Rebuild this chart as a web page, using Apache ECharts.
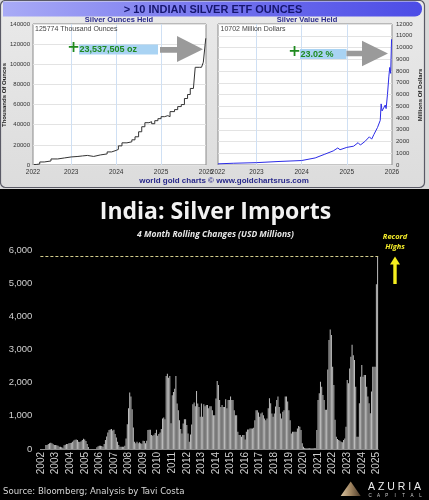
<!DOCTYPE html>
<html><head><meta charset="utf-8">
<script src="https://cdn.jsdelivr.net/npm/echarts@6/dist/echarts.min.js"></script>
<style>html,body{margin:0;padding:0;background:#000}#c{width:429px;height:500px}</style>
</head><body><div id="c"></div>
<script>
// ---------- Top-left: Silver Ounces Held (thousand oz) ----------
const ounceYears = [2022.17, 2022.22, 2022.3, 2022.4, 2022.55, 2022.7, 2022.85, 2023.0, 2023.15, 2023.25, 2023.36, 2023.5, 2023.65, 2023.8, 2023.9, 2024.0, 2024.05, 2024.13, 2024.24, 2024.35, 2024.42, 2024.5, 2024.57, 2024.64, 2024.73, 2024.79, 2024.86, 2024.93, 2025.0, 2025.08, 2025.15, 2025.2, 2025.3, 2025.37, 2025.45, 2025.52, 2025.59, 2025.65, 2025.72, 2025.76, 2025.85, 2025.9, 2025.94, 2025.98, 2025.995];
const ounceValues = [500, 1000, 3000, 4000, 6000, 7000, 8000, 8500, 9000, 9500, 8500, 10000, 11000, 13000, 14500, 15500, 19000, 22000, 23000, 25000, 28000, 33000, 38000, 42000, 43000, 41000, 44000, 46000, 48000, 49000, 48000, 53000, 55000, 58000, 60000, 66000, 70000, 76000, 77000, 97000, 97000, 98000, 102000, 103000, 125774];

// ---------- Top-right: Silver Value Held (million USD) ----------
const valueYears = [2022.15, 2022.5, 2023.0, 2023.5, 2024.0, 2024.3, 2024.5, 2024.7, 2024.8, 2024.85, 2025.0, 2025.15, 2025.25, 2025.3, 2025.4, 2025.5, 2025.55, 2025.6, 2025.68, 2025.74, 2025.76, 2025.78, 2025.82, 2025.85, 2025.87, 2025.9, 2025.93, 2025.95, 2025.97, 2025.99];
const valueMillions = [100, 150, 200, 300, 380, 600, 900, 1200, 1450, 1300, 1500, 1600, 1900, 1700, 2000, 2400, 2200, 2600, 3200, 3800, 5200, 4600, 4700, 5100, 4800, 6000, 7500, 8300, 7800, 10702];

const etfAxisStart = 2022.15;
const etfTickYears = [2022, 2023, 2024, 2025, 2026];
const etfGridYears = [2023, 2024, 2025];

// ---------- Bottom: India silver imports, 4-month rolling (USD mn), monthly ----------
const importYearLabels = ['2002','2003','2004','2005','2006','2007','2008','2009','2010','2011','2012','2013','2014','2015','2016','2017','2018','2019','2020','2021','2022','2023','2024','2025'];
const imp2002 = [0,0,0,0,120,120,150,170,190,170,140,120];
const imp2003 = [120,110,100,70,70,50,40,110,130,150,150,170];
const imp2004 = [180,190,220,260,280,290,270,220,210,230,270,310];
const imp2005 = [290,240,150,60,0,0,0,0,0,0,50,80];
const imp2006 = [100,100,90,70,150,270,380,500,570,590,600,560];
const imp2007 = [580,450,350,220,120,70,70,70,70,100,320,750];
const imp2008 = [1230,1700,1580,1200,650,220,170,220,170,200,170,160];
const imp2009 = [250,240,170,250,570,580,580,420,400,430,480,580];
const imp2010 = [400,450,500,600,920,950,900,2200,2270,2150,2200,780];
const imp2011 = [1620,1720,1820,2200,1370,1170,870,600,470,770,900,900];
const imp2012 = [720,470,220,440,740,1350,1400,1290,1750,1370,1270,970];
const imp2013 = [1370,970,1350,1290,1330,1330,1230,1290,1290,1170,1020,1020];
const imp2014 = [1520,2050,1930,1480,1270,1330,1270,1270,1500,1230,1480,1480];
const imp2015 = [1580,1480,1480,1170,1020,1020,520,420,420,370,420,420];
const imp2016 = [290,520,590,590,620,620,620,640,870,1170,1170,1100];
const imp2017 = [970,1070,1100,1020,920,870,920,1230,1530,1380,1070,970];
const imp2018 = [1070,1280,1480,1580,1270,1070,920,1120,1170,1580,1580,1430];
const imp2019 = [1170,870,470,520,520,520,520,620,690,670,570,170];
const imp2020 = [70,30,20,20,20,20,20,20,20,20,20,570];
const imp2021 = [1480,1680,2030,1880,1630,1480,1180,1180,2400,3290,3600,3440];
const imp2022 = [2480,1930,880,370,300,270,250,220,200,270,320,670];
const imp2023 = [2080,1980,2430,2780,3140,2830,2680,1880,370,370,1380,2180];
const imp2024 = [2530,2180,2230,2230,1880,1580,1380,1080,1730,2480,2480,2480];
const imp2025 = [4970,5800];
const importYearValues = [imp2002,imp2003,imp2004,imp2005,imp2006,imp2007,imp2008,imp2009,imp2010,imp2011,imp2012,imp2013,imp2014,imp2015,imp2016,imp2017,imp2018,imp2019,imp2020,imp2021,imp2022,imp2023,imp2024,imp2025];
const importYTicks = [0,1000,2000,3000,4000,5000,6000];

// build tables
const importCats = [], importVals = [];
importYearLabels.forEach((y, i) => importYearValues[i].forEach((v, m) => {
  importCats.push(y + '-' + String(m + 1).padStart(2, '0'));
  importVals.push(v);
}));
const ounceData = ounceYears.map((y, i) => [y, ounceValues[i]]);
const valueData = valueYears.map((y, i) => [y, valueMillions[i]]);

const sans = 'Liberation Sans';

const chart = echarts.init(document.getElementById('c'), null, {renderer: 'canvas'});

const capLetters = 'CAPITAL'.split('');

const option = {
  backgroundColor: '#000',
  animation: false,
  textStyle: {fontFamily: sans},
  grid: [
    {left: 33, top: 24, width: 173, height: 141, show: true, backgroundColor: '#fff', borderColor: '#8a8a8a', borderWidth: 1, containLabel: false},
    {left: 218, top: 24, width: 174, height: 141, show: true, backgroundColor: '#fff', borderColor: '#8a8a8a', borderWidth: 1, containLabel: false},
    {left: 40.4, top: 250, width: 337.8, height: 199, show: false, containLabel: false}
  ],
  xAxis: [
    {type: 'value', gridIndex: 0, min: etfAxisStart, max: 2026,
      axisLine: {show: false}, axisTick: {show: false}, splitLine: {show: false},
      axisLabel: {customValues: etfTickYears.map(y => Math.max(y, etfAxisStart)), formatter: v => String(Math.floor(v + 1e-6)), fontSize: 6.5, color: '#333', margin: 4}},
    {type: 'value', gridIndex: 1, min: etfAxisStart, max: 2026,
      axisLine: {show: false}, axisTick: {show: false}, splitLine: {show: false},
      axisLabel: {customValues: etfTickYears.map(y => Math.max(y, etfAxisStart)), formatter: v => String(Math.floor(v + 1e-6)), fontSize: 6.5, color: '#333', margin: 4}},
    {type: 'category', gridIndex: 2, data: importCats, boundaryGap: true,
      axisLine: {show: true, lineStyle: {color: '#8a8a8a', width: 1}}, axisTick: {show: false},
      axisLabel: {interval: (idx) => idx % 12 === 0, formatter: v => v.slice(0, 4), rotate: 90, fontSize: 10, color: '#cfcfcf', margin: 3}}
  ],
  yAxis: [
    {type: 'value', gridIndex: 0, min: 0, max: 140000, interval: 20000,
      axisLine: {show: false}, axisTick: {show: false},
      splitLine: {show: true, lineStyle: {color: '#e3e3e3', width: 1}},
      axisLabel: {formatter: v => String(v), fontSize: 6, color: '#333', margin: 3}},
    {type: 'value', gridIndex: 1, position: 'right', min: 0, max: 12000, interval: 1000,
      axisLine: {show: false}, axisTick: {show: false},
      splitLine: {show: true, lineStyle: {color: '#e3e3e3', width: 1}},
      axisLabel: {formatter: v => String(v), fontSize: 6, color: '#333', margin: 4}},
    {type: 'value', gridIndex: 2, min: 0, max: 6000, interval: 1000,
      axisLine: {show: false}, axisTick: {show: false}, splitLine: {show: false},
      axisLabel: {customValues: importYTicks, formatter: v => v.toLocaleString('en-US'), fontSize: 9.5, color: '#cfcfcf', margin: 8}}
  ],
  series: [
    {type: 'line', xAxisIndex: 0, yAxisIndex: 0, data: ounceData, step: 'end', showSymbol: false,
      lineStyle: {color: '#333', width: 1}, z: 3,
      markLine: {silent: true, symbol: ['none', 'none'], label: {show: false}, lineStyle: {color: '#cfe0f4', type: 'solid', width: 1}, z: 1,
        data: etfGridYears.map(y => ({xAxis: y}))}},
    {type: 'line', xAxisIndex: 1, yAxisIndex: 1, data: valueData, showSymbol: false,
      lineStyle: {color: '#2b2be6', width: 1}, z: 3,
      markLine: {silent: true, symbol: ['none', 'none'], label: {show: false}, lineStyle: {color: '#cfe0f4', type: 'solid', width: 1}, z: 1,
        data: etfGridYears.map(y => ({xAxis: y}))}},
    {type: 'bar', xAxisIndex: 2, yAxisIndex: 2, data: importVals, barCategoryGap: '20%',
      itemStyle: {color: '#bdbdbd'},
      markLine: {silent: true, symbol: ['none', 'none'], label: {show: false},
        lineStyle: {color: '#d2cc8c', type: [3, 2], width: 1}, data: [{type: 'max'}]}}
  ],
  graphic: [
    // top panel background
    {type: 'rect', z: -20, shape: {x: 0, y: 0, width: 429, height: 189}, style: {fill: '#d9d9d9'}},
    {type: 'rect', z: -19, shape: {x: 0.5, y: 0.5, width: 424, height: 187, r: 5},
      style: {fill: new echarts.graphic.LinearGradient(0, 0, 0, 1, [{offset: 0, color: '#eaeaea'}, {offset: 1, color: '#dcdcdc'}]), stroke: '#5a5a66', lineWidth: 1.2}},
    {type: 'rect', z: -18, shape: {x: 3, y: 1.5, width: 419, height: 15, r: [0, 7, 7, 0]},
      style: {fill: new echarts.graphic.LinearGradient(0, 0, 1, 0, [{offset: 0, color: '#a9abf6'}, {offset: 0.5, color: '#7474ee'}, {offset: 1, color: '#4c4ce6'}])}},
    {type: 'text', z: 10, style: {text: '> 10 INDIAN SILVER ETF OUNCES', x: 213, y: 9.5, align: 'center', verticalAlign: 'middle', font: 'bold 11px "Liberation Sans"', fill: '#15156e'}},
    {type: 'text', z: 10, style: {text: 'Silver Ounces Held', x: 119, y: 20, align: 'center', verticalAlign: 'middle', font: 'bold 7.5px "Liberation Sans"', fill: '#2a2a8c'}},
    {type: 'text', z: 10, style: {text: 'Silver Value Held', x: 307, y: 20, align: 'center', verticalAlign: 'middle', font: 'bold 7.5px "Liberation Sans"', fill: '#2a2a8c'}},
    {type: 'text', z: 10, style: {text: '125774 Thousand Ounces', x: 35, y: 29, align: 'left', verticalAlign: 'middle', font: '7px "Liberation Sans"', fill: '#444'}},
    {type: 'text', z: 10, style: {text: '10702 Million Dollars', x: 220.5, y: 29, align: 'left', verticalAlign: 'middle', font: '7px "Liberation Sans"', fill: '#444'}},
    {type: 'text', z: 10, rotation: Math.PI / 2, x: 4.5, y: 95, style: {text: 'Thousands Of Ounces', x: 0, y: 0, align: 'center', verticalAlign: 'middle', font: 'bold 6px "Liberation Sans"', fill: '#222'}},
    {type: 'text', z: 10, rotation: Math.PI / 2, x: 420, y: 95, style: {text: 'Millions Of Dollars', x: 0, y: 0, align: 'center', verticalAlign: 'middle', font: 'bold 6px "Liberation Sans"', fill: '#222'}},
    {type: 'text', z: 10, style: {text: 'world gold charts \u00a9 www.goldchartsrus.com', x: 224, y: 181, align: 'center', verticalAlign: 'middle', font: 'bold 8px "Liberation Sans"', fill: '#2a2a8c'}},
    // left annotation
    {type: 'rect', z: 10, shape: {x: 79, y: 44.5, width: 79, height: 10}, style: {fill: '#a9d3f3'}},
    {type: 'text', z: 11, style: {text: '+', x: 73.5, y: 48.5, align: 'center', verticalAlign: 'middle', font: 'bold 15px "DejaVu Sans"', fill: '#1f8a1f'}},
    {type: 'text', z: 11, style: {text: '23,537,505 oz', x: 79.5, y: 49.8, align: 'left', verticalAlign: 'middle', font: 'bold 9px "Liberation Sans"', fill: '#1f8a1f'}},
    {type: 'polygon', z: 10, shape: {points: [[160, 47], [177, 47], [177, 36], [203, 49.3], [177, 62], [177, 52.7], [160, 52.7]]}, style: {fill: '#9a9a9a'}},
    // right annotation
    {type: 'rect', z: 10, shape: {x: 300, y: 49, width: 46.5, height: 10}, style: {fill: '#a9d3f3'}},
    {type: 'text', z: 11, style: {text: '+', x: 294.5, y: 52.5, align: 'center', verticalAlign: 'middle', font: 'bold 15px "DejaVu Sans"', fill: '#1f8a1f'}},
    {type: 'text', z: 11, style: {text: '23.02 %', x: 300.5, y: 54.2, align: 'left', verticalAlign: 'middle', font: 'bold 9px "Liberation Sans"', fill: '#1f8a1f'}},
    {type: 'polygon', z: 10, shape: {points: [[346.5, 50.8], [362, 50.8], [362, 40.7], [388, 53.5], [362, 66.3], [362, 56.2], [346.5, 56.2]]}, style: {fill: '#9a9a9a'}},
    // bottom titles
    {type: 'text', z: 10, style: {text: 'India: Silver Imports', x: 215.5, y: 212, align: 'center', verticalAlign: 'middle', font: 'bold 23px "Open Sans"', fill: '#f2f2f2'}},
    {type: 'text', z: 10, style: {text: '4 Month Rolling Changes (USD Millions)', x: 215.5, y: 235, align: 'center', verticalAlign: 'middle', font: 'italic bold 8.5px "Open Sans"', fill: '#e6e6e6'}},
    {type: 'text', z: 10, style: {text: 'Record', x: 395, y: 236.5, align: 'center', verticalAlign: 'middle', font: 'italic bold 7.5px "Open Sans"', fill: '#f2ea2a'}},
    {type: 'text', z: 10, style: {text: 'Highs', x: 395, y: 246.5, align: 'center', verticalAlign: 'middle', font: 'italic bold 7.5px "Open Sans"', fill: '#f2ea2a'}},
    {type: 'polygon', z: 10, shape: {points: [[395, 256.5], [400, 264.5], [396.7, 264.5], [396.7, 284], [393.3, 284], [393.3, 264.5], [390, 264.5]]}, style: {fill: '#f5ee1e'}},
    {type: 'text', z: 10, style: {text: 'Source: Bloomberg; Analysis by Tavi Costa', x: 3, y: 492, align: 'left', verticalAlign: 'middle', font: '9.5px "Liberation Sans Narrow", "DejaVu Sans Condensed", "Liberation Sans"', fill: '#d6d6d6'}},
    // logo
    {type: 'polygon', z: 10, shape: {points: [[350.7, 481.5], [360.7, 496], [340.7, 496]]},
      style: {fill: new echarts.graphic.LinearGradient(0, 0, 1, 0, [{offset: 0, color: '#d9c4a0'}, {offset: 0.5, color: '#a08460'}, {offset: 1, color: '#4e3c2a'}])}},
    {type: 'text', z: 10, style: {text: 'A Z U R I A', x: 394.5, y: 487.5, align: 'center', verticalAlign: 'middle', font: '10.5px "Liberation Sans"', fill: '#ededed'}},
    ...capLetters.map((ch, i) => ({type: 'text', z: 10, style: {text: ch, x: 370 + i * 8.4, y: 496, align: 'center', verticalAlign: 'middle', font: '4.5px "Liberation Sans"', fill: '#cfcfcf'}}))
  ]
};
chart.setOption(option);
</script>
</body></html>
